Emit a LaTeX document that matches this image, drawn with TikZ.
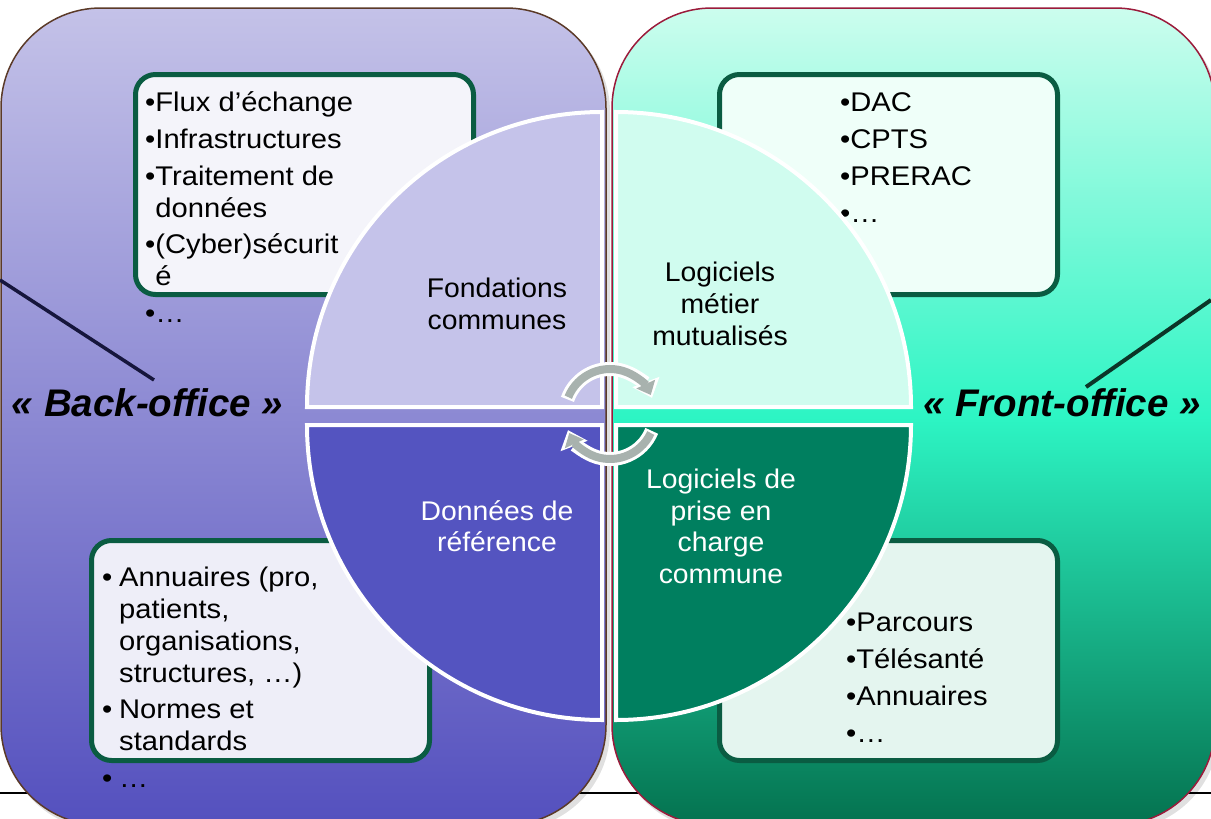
\documentclass[tikz,border=0pt]{standalone}
\usepackage{fontspec}
\setmainfont{Liberation Sans}
\newfontfamily\boxfont[FakeStretch=1.08]{Liberation Sans}
\newfontfamily\quadfont[FakeStretch=1.05]{Liberation Sans}
\usetikzlibrary{arrows.meta}
\definecolor{lpTop}{HTML}{C4C2E8}
\definecolor{lpBot}{HTML}{5450BE}
\definecolor{rpTop}{HTML}{CCFDEE}
\definecolor{rpMid}{HTML}{2DF5C4}
\definecolor{rpBot}{HTML}{04724F}
\definecolor{lpBorder}{HTML}{5B3A28}
\definecolor{rpBorder}{HTML}{9B1B3B}
\definecolor{boxBorder}{HTML}{0A5C42}
\definecolor{qTL}{HTML}{C5C3EA}
\definecolor{qTR}{HTML}{D0FCEF}
\definecolor{qBL}{HTML}{5454C0}
\definecolor{qBR}{HTML}{007F5F}
\definecolor{arrowgrey}{HTML}{A8B2AE}
\definecolor{lineL}{HTML}{16163C}
\definecolor{lineR}{HTML}{0B3528}
\definecolor{boxTL}{HTML}{F4F4FA}
\definecolor{boxTR}{HTML}{EFFFF9}
\definecolor{boxBL}{HTML}{EEEEF8}
\definecolor{boxBR}{HTML}{E4F5EF}
\begin{document}
\begin{tikzpicture}[x=1pt,y=-1pt,
  infobox/.style={draw=boxBorder, line width=5, rounded corners=20, anchor=north west,
    minimum width=338, minimum height=220, inner sep=0},
  boxtext/.style={anchor=north west, inner sep=0, align=left, text=black,
    font=\boxfont\fontsize{27}{31.7}\selectfont},
  quadlabel/.style={anchor=north, inner sep=0, align=center,
    font=\quadfont\fontsize{27}{31.7}\selectfont},
  quad/.style={draw=white, line width=4},
  biglabel/.style={anchor=base, inner sep=0, font=\bfseries\itshape\fontsize{38.5}{44}\selectfont},
  arrowW/.style={line width=14, draw=white, -{Triangle[width=28pt,length=17pt]}},
  arrowG/.style={line width=8, draw=arrowgrey, -{Triangle[width=20pt,length=12pt]}}
]
\useasboundingbox (0,0) rectangle (1211,819);
% base line behind the panels
\coordinate (hlA) at (0,793);
\coordinate (hlB) at (1211,793);
\draw[line width=2, black] (hlA) -- (hlB);

% panels with soft shadow
\fill[black, opacity=0.12, rounded corners=100] (4,12) rectangle (610,830);
\fill[black, opacity=0.12, rounded corners=100] (615,12) rectangle (1219,830);
\shade[top color=lpTop, bottom color=lpBot, rounded corners=100] (1,8) rectangle (606,825);
\draw[lpBorder, line width=1.5, rounded corners=100] (1,8) rectangle (606,825);
\shade[top color=rpTop, bottom color=rpBot, middle color=rpMid, rounded corners=100] (612,8) rectangle (1215,825);
\draw[rpBorder, line width=1.5, rounded corners=100] (612,8) rectangle (1215,825);

% slanted lines
\coordinate (lA) at (0,280);
\coordinate (lB) at (154,380);
\draw[lineL, line width=3.5] (lA) -- (lB);
\coordinate (rA) at (1211,300);
\coordinate (rB) at (1086,387);
\draw[lineR, line width=4] (rA) -- (rB);

% boxes
\node[infobox, fill=boxTL] (tlbox) at (133,72) {};
\node[infobox, fill=boxTR] (trbox) at (717,72) {};
\node[infobox, fill=boxBL] (blbox) at (89,538) {};
\node[infobox, fill=boxBR] (brbox) at (717,538) {};

\node[boxtext] (tltext) at (145,89.7) {\rule{0pt}{22pt}•Flux d’échange\\[5pt]•Infrastructures\\[5pt]•Traitement de\\\hphantom{•}données\\[5pt]•(Cyber)sécurit\\\hphantom{•}é\\[5pt]•…};
\node[boxtext] (trtext) at (840,89.7) {\rule{0pt}{22pt}•DAC\\[5pt]•CPTS\\[5pt]•PRERAC\\[5pt]•…};
\node[boxtext] (bltext) at (102,564.7) {\rule{0pt}{22pt}\makebox[17pt][l]{•}Annuaires (pro,\\\hspace*{17pt}patients,\\\hspace*{17pt}organisations,\\\hspace*{17pt}structures, …)\\[5pt]\makebox[17pt][l]{•}Normes et\\\hspace*{17pt}standards\\[5pt]\makebox[17pt][l]{•}…};
\node[boxtext] (brtext) at (846,609.7) {\rule{0pt}{22pt}•Parcours\\[5pt]•Télésanté\\[5pt]•Annuaires\\[5pt]•…};

% quadrants
\filldraw[quad, fill=qTL] (307,407) arc[start angle=180, end angle=270, radius=295] -- (602,407) -- cycle;
\filldraw[quad, fill=qTR] (616,112) arc[start angle=270, end angle=360, radius=295] -- (616,407) -- cycle;
\filldraw[quad, fill=qBL] (602,720) arc[start angle=90, end angle=180, radius=295] -- (602,425) -- cycle;
\filldraw[quad, fill=qBR] (911,425) arc[start angle=0, end angle=90, radius=295] -- (616,425) -- cycle;

\node[quadlabel, text=black] (qtl) at (497,275.7) {\rule{0pt}{22pt}Fondations\\communes};
\node[quadlabel, text=black] (qtr) at (720,259.7) {\rule{0pt}{22pt}Logiciels\\métier\\mutualisés};
\node[quadlabel, text=white] (qbl) at (497,498) {\rule{0pt}{22pt}Données de\\référence};
\node[quadlabel, text=white] (qbr) at (721,466.3) {\rule{0pt}{22pt}Logiciels de\\prise en\\charge\\commune};

% circular arrows
\coordinate (cc) at (610,414);
\draw[arrowW] (cc) ++(199:45) arc[start angle=199, end angle=339, radius=45];
\draw[arrowG] (cc) ++(202:45) arc[start angle=202, end angle=335, radius=45];
\draw[arrowW] (cc) ++(22:45) arc[start angle=22, end angle=159, radius=45];
\draw[arrowG] (cc) ++(25:45) arc[start angle=25, end angle=155, radius=45];

% big labels
\node[biglabel, text=black] (back) at (147.5,416) {« Back-office »};
\node[biglabel, text=black] (front) at (1062,416) {« Front-office »};
\end{tikzpicture}
\end{document}
